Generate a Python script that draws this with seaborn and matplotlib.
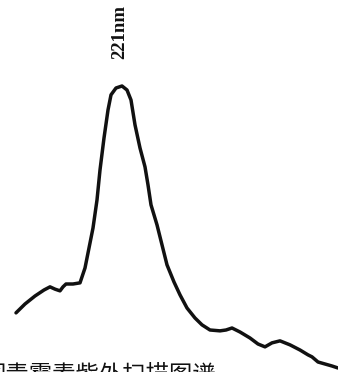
import matplotlib
import pandas as pd
import seaborn as sns
import matplotlib.pyplot as plt

# Non-interactive backend, no display in the sandbox
matplotlib.use('Agg')

# --------------------------------------------------------------------------
# Data (wavelength in nm, absorbance in arbitrary units)
# --------------------------------------------------------------------------
wavelength = [200.0, 201.8, 203.8, 205.6, 206.8, 207.8, 208.8, 209.4, 210.0, 211.4,
              212.8, 213.8, 214.6, 215.4, 216.2, 216.8, 217.6, 218.4, 219.0, 220.0,
              221.2, 222.2, 223.0, 223.8, 224.8, 225.8, 226.4, 227.0, 228.2, 229.2,
              230.2, 231.6, 232.8, 234.2, 235.8, 237.2, 238.8, 240.8, 242.0, 243.2,
              244.8, 246.8, 248.4, 249.8, 251.2, 252.8, 254.8, 256.8, 258.4, 259.2,
              260.4, 261.8, 263.2, 264.4]
absorbance = [0.207, 0.238, 0.266, 0.287, 0.298, 0.290, 0.284, 0.298, 0.308, 0.308,
              0.312, 0.364, 0.434, 0.504, 0.602, 0.707, 0.819, 0.917, 0.970, 0.994,
              1.001, 0.987, 0.952, 0.865, 0.784, 0.718, 0.655, 0.585, 0.515, 0.445,
              0.375, 0.315, 0.270, 0.224, 0.189, 0.165, 0.147, 0.144, 0.147, 0.154,
              0.140, 0.119, 0.098, 0.088, 0.102, 0.109, 0.095, 0.077, 0.060, 0.053,
              0.035, 0.028, 0.021, 0.014]
peak_label = "221nm"
peak_wavelength = 221.2
caption = "图青霉素紫外扫描图谱"

df = pd.DataFrame({"wavelength": wavelength, "absorbance": absorbance})

sns.set_style("white")

fig = plt.figure(figsize=(3.38, 3.72), dpi=100)
ax = fig.add_axes([0, 0, 1, 1])

sns.lineplot(data=df, x="wavelength", y="absorbance", ax=ax, sort=False,
             color="#111111", linewidth=2.5, solid_joinstyle="round",
             solid_capstyle="round")

ax.set_xlim(196.8, 264.4)
ax.set_ylim(0, 1.302)
ax.axis("off")

# peak marker text, vertical, bold serif
ax.text(peak_wavelength - 0.4, 1.19, peak_label, rotation=90, ha="center", va="center",
        fontsize=13.5, fontweight="bold", family=["Liberation Serif", "DejaVu Serif"],
        color="#111111")

# caption cut off by the bottom edge
fig.text(-0.052, 8 / 372, caption, ha="left", va="top", fontsize=16.8,
         family=["Noto Sans CJK SC", "DejaVu Sans"], color="#111111")

fig.savefig("out.png", dpi=100)
plt.close(fig)
